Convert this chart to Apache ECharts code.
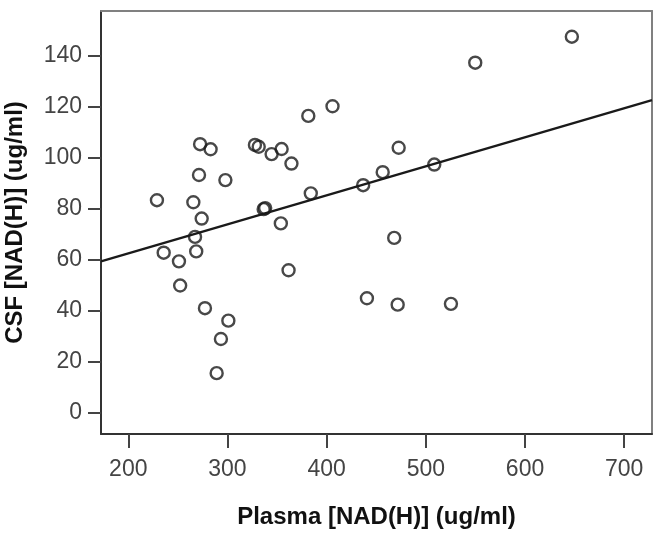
<!DOCTYPE html>
<html>
<head>
<meta charset="utf-8">
<script src="https://cdn.jsdelivr.net/npm/echarts@6/dist/echarts.min.js"></script>
<style>
html,body{margin:0;padding:0;background:#fff;}
#c{width:664px;height:543px;}
</style>
</head>
<body>
<div id="c"></div>
<script>
// Plasma NAD(H) (ug/ml)
const plasma = [228.9, 235.7, 251.1, 252.3, 265.6, 267.3, 268.5, 271.3, 272.4, 274.0,
  277.3, 283.0, 289.1, 293.4, 297.9, 300.9, 327.7, 331.5, 336.5, 338.0,
  344.5, 353.8, 354.6, 361.6, 364.5, 381.5, 384.0, 405.9, 436.8, 440.6,
  456.5, 468.1, 471.6, 472.6, 508.5, 525.3, 549.8, 647.2];
// CSF NAD(H) (ug/ml)
const csf = [83.3, 62.7, 59.3, 49.8, 82.5, 68.9, 63.2, 93.2, 105.3, 76.1,
  40.9, 103.3, 15.4, 28.8, 91.2, 36.0, 105.0, 104.3, 79.8, 80.2,
  101.4, 74.2, 103.4, 55.8, 97.7, 116.4, 86.0, 120.2, 89.2, 44.8,
  94.3, 68.5, 42.3, 103.9, 97.3, 42.6, 137.3, 147.5];
// Fit line endpoints as read at the plot edges
const fitX = [172.5, 728];
const fitY = [59.3, 122.6];
const xTicks = [200, 300, 400, 500, 600, 700];
const yTicks = [0, 20, 40, 60, 80, 100, 120, 140];

const points = plasma.map((x, i) => [x, csf[i]]);
const fitLine = fitX.map((x, i) => [x, fitY[i]]);

const X_MIN = 172.5, X_MAX = 728, Y_MIN = -8.5, Y_MAX = 157.6;
const FONT = 'Liberation Sans, Arial, sans-serif';
const chart = echarts.init(document.getElementById('c'));
const labelStyle = {fontFamily: FONT, fontSize: 23, color: '#444'};
const borderAxis = {
  min: 0, max: 1, type: 'value',
  axisLine: {show: true, onZero: false, lineStyle: {color: '#808080', width: 2}},
  axisTick: {show: false}, axisLabel: {show: false}, splitLine: {show: false}
};
chart.setOption({
  animation: false,
  backgroundColor: '#fff',
  grid: {left: 101, right: 12, top: 11, bottom: 109, outerBoundsMode: 'none'},
  xAxis: [{
    type: 'value', min: X_MIN, max: X_MAX, position: 'bottom',
    name: 'Plasma [NAD(H)] (ug/ml)', nameLocation: 'middle', nameGap: 71,
    nameTextStyle: {fontFamily: FONT, fontSize: 24, fontWeight: 'bold', color: '#111'},
    axisLine: {show: true, onZero: false, lineStyle: {color: '#333', width: 2}},
    axisTick: {show: true, inside: false, length: 14, customValues: xTicks, lineStyle: {color: '#444', width: 2}},
    axisLabel: Object.assign({margin: 24, customValues: xTicks}, labelStyle),
    splitLine: {show: false}
  }, Object.assign({position: 'top'}, borderAxis)],
  yAxis: [{
    type: 'value', min: Y_MIN, max: Y_MAX, position: 'left',
    name: 'CSF [NAD(H)] (ug/ml)', nameLocation: 'middle', nameGap: 74,
    nameTextStyle: {fontFamily: FONT, fontSize: 24, fontWeight: 'bold', color: '#111'},
    axisLine: {show: true, onZero: false, lineStyle: {color: '#333', width: 2}},
    axisTick: {show: true, inside: false, length: 13, customValues: yTicks, lineStyle: {color: '#444', width: 2}},
    axisLabel: Object.assign({margin: 19, customValues: yTicks}, labelStyle),
    splitLine: {show: false}
  }, Object.assign({position: 'right'}, borderAxis)],
  series: [
    {type: 'line', data: fitLine, symbol: 'none', lineStyle: {color: '#1a1a1a', width: 2.3}, z: 2},
    {type: 'scatter', data: points, symbol: 'circle', symbolSize: 12,
      itemStyle: {color: 'rgba(0,0,0,0)', borderColor: '#1a1a1a', borderWidth: 2.4}, z: 3}
  ]
});
</script>
</body>
</html>
